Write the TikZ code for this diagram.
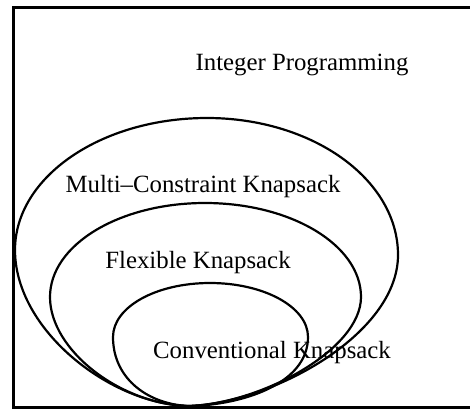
\documentclass[tikz,border=0pt]{standalone}
\usepackage{fontspec}
\setmainfont{Liberation Serif}
\begin{document}
\begin{tikzpicture}[x=0.5pt,y=-0.5pt,
    frame/.style={line width=1.5pt},
    egg/.style={line width=1.1pt},
    label/.style={font=\fontsize{12.4}{14}\selectfont,inner sep=0pt}]
    \useasboundingbox (0,0) rectangle (470,412);

    % Rahmen
    \draw[frame] (470,7) -- (13,7) -- (13,407) -- (470,407);

    % Mengen
    \draw[egg] (188,406) .. controls (110,404) and (15,330) .. (15,250)
        .. controls (15,177) and (101,118) .. (207,118)
        .. controls (312,118) and (398,179) .. (398,255)
        .. controls (398,335) and (270,404) .. (188,406);
    \draw[egg] (188,406) .. controls (120,404) and (50,350) .. (50,297)
        .. controls (50,245) and (119,203) .. (205,203)
        .. controls (291,203) and (361,245) .. (361,297)
        .. controls (361,350) and (260,404) .. (188,406);
    \draw[egg] (190,406) .. controls (150,405) and (113,380) .. (113,337)
        .. controls (113,307) and (156,283) .. (210,283)
        .. controls (264,283) and (308,307) .. (308,337)
        .. controls (308,385) and (240,405) .. (190,406);

    % Beschriftungen
    \node[label] (ip) at (302,65) {Integer Programming};
    \node[label] (mck) at (203,187) {Multi--Constraint Knapsack};
    \node[label] (fk) at (198,263) {Flexible Knapsack};
    \node[label] (ck) at (272,353) {Conventional Knapsack};
\end{tikzpicture}
\end{document}
